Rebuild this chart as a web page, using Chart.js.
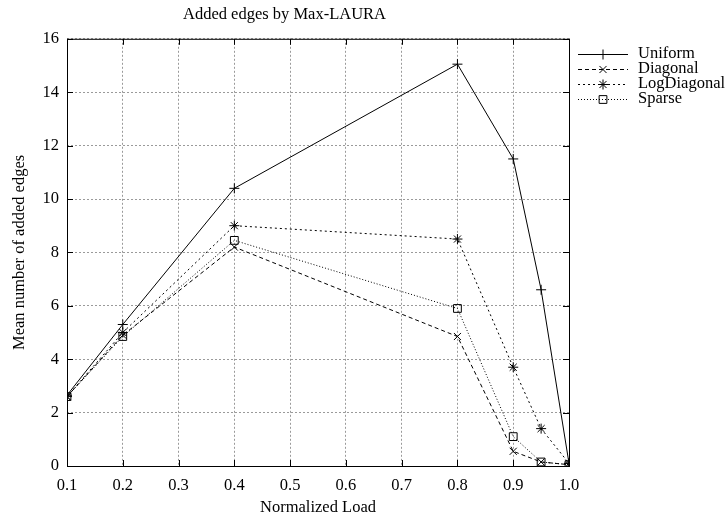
<!DOCTYPE html>
<html>
<head>
<meta charset="utf-8">
<script src="https://cdn.jsdelivr.net/npm/chart.js@4/dist/chart.umd.min.js"></script>
<style>
  html, body { margin: 0; padding: 0; background: #fff; }
  #wrap { width: 727px; height: 518px; }
</style>
</head>
<body>
<div id="wrap"><canvas id="edgesChart"></canvas></div>
<script>
// values
const loads = [0.1, 0.2, 0.4, 0.8, 0.9, 0.95, 1.0];
const uniform = [2.65, 5.3, 10.4, 15.05, 11.5, 6.6, 0.1];
const diagonal = [2.6, 4.9, 8.2, 4.85, 0.55, 0.15, 0.05];
const logDiagonal = [2.6, 5.0, 9.0, 8.5, 3.7, 1.4, 0.1];
const sparse = [2.6, 4.85, 8.45, 5.9, 1.1, 0.15, 0.05];

const xTicks = [0.1, 0.2, 0.3, 0.4, 0.5, 0.6, 0.7, 0.8, 0.9, 1.0];
const yTicks = [0, 2, 4, 6, 8, 10, 12, 14, 16];

const FONT = "'Liberation Serif', 'DejaVu Serif', serif";
const FSIZE = 16.5;

const toPoints = (vals) => vals.map((v, i) => ({ x: loads[i], y: v }));

const makeSeries = (label, vals, dash, style, radius) => ({
  label: label,
  data: toPoints(vals),
  borderColor: "#000",
  backgroundColor: "rgba(0,0,0,0)",
  borderWidth: 1,
  borderDash: dash,
  pointStyle: style,
  pointRadius: radius,
  pointBorderColor: "#000",
  pointBorderWidth: 1,
  pointBackgroundColor: "rgba(0,0,0,0)",
  tension: 0,
  fill: false,
});

// gnuplot style frame with inward ticks, plus key on the right
const framePlugin = {
  id: "frame",
  afterDatasetsDraw(chart) {
    const { ctx, chartArea: a, scales } = chart;
    ctx.save();
    ctx.strokeStyle = "#000";
    ctx.lineWidth = 1;
    ctx.setLineDash([]);
    ctx.strokeRect(a.left + 0.5, a.top + 0.5, a.right - a.left, a.bottom - a.top);
    const t = 6;
    ctx.beginPath();
    xTicks.forEach((v) => {
      const px = Math.round(scales.x.getPixelForValue(v)) + 0.5;
      ctx.moveTo(px, a.bottom); ctx.lineTo(px, a.bottom - t);
      ctx.moveTo(px, a.top); ctx.lineTo(px, a.top + t);
    });
    yTicks.forEach((v) => {
      const py = Math.round(scales.y.getPixelForValue(v)) + 0.5;
      ctx.moveTo(a.left, py); ctx.lineTo(a.left + t, py);
      ctx.moveTo(a.right, py); ctx.lineTo(a.right - t, py);
    });
    ctx.stroke();

    // key
    ctx.font = FSIZE + "px " + FONT;
    ctx.textBaseline = "middle";
    chart.data.datasets.forEach((ds, i) => {
      const y = 54 + i * 15;
      ctx.save();
      ctx.setLineDash(ds.borderDash || []);
      ctx.beginPath();
      ctx.moveTo(578, y + 0.5);
      ctx.lineTo(628, y + 0.5);
      ctx.stroke();
      ctx.restore();
      ctx.fillStyle = "rgba(0,0,0,0)";
      Chart.helpers.drawPoint(ctx, {
        pointStyle: ds.pointStyle,
        radius: ds.pointRadius,
        borderWidth: 1,
        rotation: 0,
      }, 603, y + 0.5);
      ctx.fillStyle = "#000";
      ctx.fillText(ds.label, 638, y);
    });
    ctx.restore();
  },
};

new Chart(document.getElementById("edgesChart"), {
  type: "line",
  data: {
    datasets: [
      makeSeries("Uniform", uniform, [], "cross", 5),
      makeSeries("Diagonal", diagonal, [4, 3], "crossRot", 5),
      makeSeries("LogDiagonal", logDiagonal, [2, 3], "star", 5),
      makeSeries("Sparse", sparse, [1, 2], "rect", 5.5),
    ],
  },
  options: {
    responsive: true,
    maintainAspectRatio: false,
    animation: false,
    events: [],
    layout: {
      padding: { left: 0, right: 158, top: 0, bottom: 0 },
    },
    plugins: {
      legend: { display: false },
      tooltip: { enabled: false },
      title: {
        display: true,
        text: "Added edges by Max-LAURA",
        color: "#000",
        font: { family: FONT, size: FSIZE, weight: "normal" },
        padding: { top: 5, bottom: 14 },
      },
    },
    scales: {
      x: {
        type: "linear",
        min: 0.1,
        max: 1.0,
        afterBuildTicks(scale) {
          scale.ticks = xTicks.map((v) => ({ value: v }));
        },
        afterFit(scale) {
          scale.height = 52;
        },
        grid: { color: "#9a9a9a", drawTicks: false },
        border: { display: false, dash: [2, 2] },
        ticks: {
          color: "#000",
          padding: 10,
          maxRotation: 0,
          font: { family: FONT, size: FSIZE },
          callback: (v) => Number(v).toFixed(1),
        },
        title: {
          display: true,
          text: "Normalized Load",
          color: "#000",
          font: { family: FONT, size: FSIZE },
          padding: { top: 0, bottom: 0 },
        },
      },
      y: {
        min: 0,
        max: 16,
        afterBuildTicks(scale) {
          scale.ticks = yTicks.map((v) => ({ value: v }));
        },
        afterFit(scale) {
          scale.width = 67;
        },
        grid: { color: "#9a9a9a", drawTicks: false },
        border: { display: false, dash: [2, 2] },
        ticks: {
          color: "#000",
          padding: 8,
          font: { family: FONT, size: FSIZE },
        },
        title: {
          display: true,
          text: "Mean number of added edges",
          color: "#000",
          font: { family: FONT, size: FSIZE },
          padding: { top: 10, bottom: 0 },
        },
      },
    },
  },
  plugins: [framePlugin],
});
</script>
</body>
</html>
